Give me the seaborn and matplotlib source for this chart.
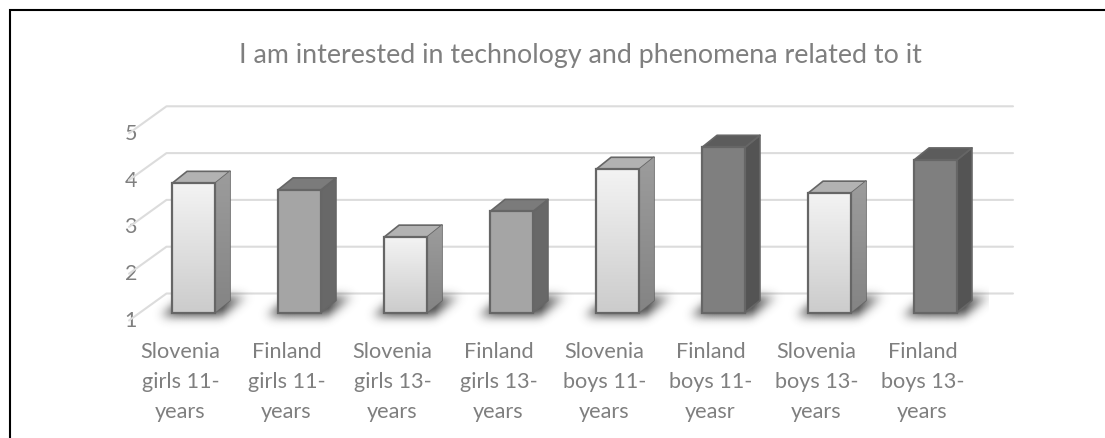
import numpy as np
import pandas as pd
import matplotlib.pyplot as plt
import seaborn as sns
from matplotlib.lines import Line2D
from matplotlib.patches import Polygon
from matplotlib.path import Path

labels = ['Slovenia\ngirls 11-\nyears', 'Finland\ngirls 11-\nyears',
          'Slovenia\ngirls 13-\nyears', 'Finland\ngirls 13-\nyears',
          'Slovenia\nboys 11-\nyears', 'Finland\nboys 11-\nyeasr',
          'Slovenia\nboys 13-\nyears', 'Finland\nboys 13-\nyears']
values = [3.76, 3.62, 2.61, 3.16, 4.06, 4.53, 3.55, 4.26]
groups = ['slo', 'fin_girls', 'slo', 'fin_girls', 'slo', 'fin_boys', 'slo', 'fin_boys']
y_ticks = [1, 2, 3, 4, 5]
title = 'I am interested in technology and phenomena related to it'

front_colors = {'slo': '#dedede', 'fin_girls': '#a5a5a5', 'fin_boys': '#7f7f7f'}
side_colors = {'slo': '#8f8f8f', 'fin_girls': '#686868', 'fin_boys': '#545454'}
top_colors = {'slo': '#b2b2b2', 'fin_girls': '#7b7b7b', 'fin_boys': '#5c5c5c'}
edge = '#666666'
text_col = '#7f7f7f'
grid_col = '#dcdcdc'

W, H = 1105, 439
sns.set_style('white')
plt.rcParams['font.family'] = ['Lato', 'DejaVu Sans']

fig = plt.figure(figsize=(W / 100, H / 100), dpi=100)
ax = fig.add_axes([140.5 / W, 1 - 336.9 / H, 848 / W, 234 / H])

df = pd.DataFrame({'label': labels, 'value': values, 'group': groups})
sns.barplot(df, x='label', y='value', hue='group', palette=front_colors, dodge=False,
            width=0.405, legend=False, edgecolor=edge, linewidth=1.6, ax=ax, zorder=5)

ax.set_xlim(-0.5, 7.5)
ax.set_ylim(0.5, 5.5)
px_x = 8 / 848
px_y = 5 / 234

# floor and back wall lines
for v in y_ticks:
    ax.plot([-0.5 - 11.5 * px_x, -0.5 + 26 * px_x, 7.5 + 24.5 * px_x],
            [v - 8 * px_y, v + 19 * px_y, v + 19 * px_y],
            color=grid_col, lw=1.5, clip_on=False, zorder=1, solid_capstyle='round')

# pixel grid for the blurred floor shadow
u = np.arange(-30, 100)
w = np.arange(-18, 34)
uu, ww = np.meshgrid(u, w)
pts = np.column_stack([uu.ravel(), ww.ravel()])
blur = np.exp(-np.arange(-15, 16) ** 2 / (2 * 5.0 ** 2))
blur /= blur.sum()

grad = np.linspace(0, 1, 64).reshape(-1, 1)

for p in list(ax.patches):
    if p.get_height() == 0:
        continue
    i = int(round(p.get_x() + p.get_width() / 2))
    g = groups[i]
    v = values[i]
    l = p.get_x()
    r = l + p.get_width()
    p.set_y(1)
    p.set_height(v - 1)
    dx = 15 * px_x
    dy = 12 * px_y

    bw = (r - l) / px_x
    mask = Path([(-12, -4), (bw + 6, -4), (bw + 34, 16), (14, 16)]).contains_points(pts)
    mask = mask.reshape(uu.shape).astype(float)
    mask = np.apply_along_axis(lambda a: np.convolve(a, blur, mode='same'), 0, mask)
    mask = np.apply_along_axis(lambda a: np.convolve(a, blur, mode='same'), 1, mask)
    fade = np.clip(1 - (uu - bw - 8) / 40, 0.3, 1)
    rgba = np.zeros(mask.shape + (4,))
    rgba[..., :3] = 0.2
    rgba[..., 3] = mask * fade * 0.9
    ax.imshow(rgba, origin='lower', aspect='auto', zorder=2, interpolation='bilinear',
              extent=[l + u[0] * px_x, l + u[-1] * px_x, 1 + w[0] * px_y, 1 + w[-1] * px_y])

    side = Polygon([(r, 1), (r + dx, 1 + dy), (r + dx, v + dy), (r, v)], closed=True,
                   facecolor=side_colors[g], edgecolor=edge, lw=1.2, zorder=4, joinstyle='round')
    top = Polygon([(l, v), (l + dx, v + dy), (r + dx, v + dy), (r, v)], closed=True,
                  facecolor=top_colors[g], edgecolor=edge, lw=1.2, zorder=4, joinstyle='round')
    ax.add_patch(side)
    ax.add_patch(top)

    if g == 'slo':
        p.set_facecolor('none')
        ax.imshow(grad, cmap=sns.blend_palette(['#f3f3f3', '#cccccc'], as_cmap=True), origin='upper',
                  aspect='auto', extent=[l, r, 1, v], zorder=4.5)
        im = ax.imshow(grad, cmap=sns.blend_palette(['#9c9c9c', '#848484'], as_cmap=True), origin='upper',
                       aspect='auto', extent=[r, r + dx, 1, v + dy], zorder=4.2)
        im.set_clip_path(side)

ax.set_xlim(-0.5, 7.5)
ax.set_ylim(0.5, 5.5)

# tick labels sit on the front edge of the floor
ax.set_yticks([v - 5.5 * px_y for v in y_ticks], [str(v) for v in y_ticks])
ax.set_xticks([i - 13 * px_x for i in range(len(labels))], labels)
ax.tick_params(axis='y', length=0, pad=2.5, labelsize=15.5, labelcolor=text_col)
ax.tick_params(axis='x', length=0, pad=3.5, labelsize=15.6, labelcolor=text_col)
for t in ax.get_xticklabels():
    t.set_linespacing(1.62)
ax.set_xlabel('')
ax.set_ylabel('')
sns.despine(ax=ax, left=True, bottom=True)
ax.patch.set_alpha(0)

fig.text(580.5 / W, 1 - 55 / H, title, ha='center', va='center', fontsize=19.3, color=text_col)

# black frame of the original figure, open at the right and the bottom
fig.add_artist(Line2D([10 / W, 10 / W, 1], [0, 1 - 10.5 / H, 1 - 10.5 / H], color='black', lw=1.5,
                      solid_joinstyle='miter'))

fig.savefig('out.png', dpi=100)
